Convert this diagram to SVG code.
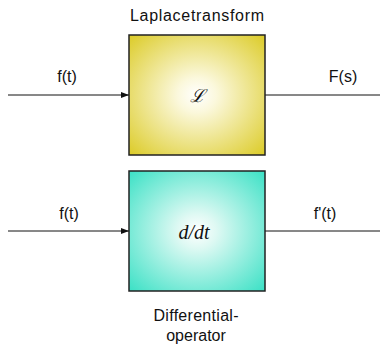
<svg xmlns="http://www.w3.org/2000/svg" width="383" height="345" viewBox="0 0 383 345">
<style>
.lbl{font-family:"Liberation Sans",Arial,sans-serif;font-size:16px;fill:#111;text-anchor:middle}
.math{font-family:"DejaVu Serif","Liberation Serif",serif;font-style:italic;font-size:20px;fill:#111;text-anchor:middle}
.box{stroke:#222;stroke-width:1.5}
.wire{stroke:#111;stroke-width:1;fill:none}
</style>
<defs>
<radialGradient id="gy" cx="50%" cy="50%" r="72%">
<stop offset="0" stop-color="#ffffff"/>
<stop offset="0.2" stop-color="#fbf8dc"/>
<stop offset="1" stop-color="#dbca22"/>
</radialGradient>
<radialGradient id="gt" cx="50%" cy="50%" r="72%">
<stop offset="0" stop-color="#ffffff"/>
<stop offset="0.2" stop-color="#def9f3"/>
<stop offset="1" stop-color="#36e0c4"/>
</radialGradient>
<marker id="ah" markerWidth="8" markerHeight="6" refX="8" refY="3" orient="auto" markerUnits="userSpaceOnUse">
<path d="M0,0 L8,3 L0,6 Z" fill="#111"/>
</marker>
</defs>
<g id="connectors">
<line class="wire" x1="8" y1="95" x2="129" y2="95" marker-end="url(#ah)"/>
<line class="wire" x1="265" y1="95" x2="380" y2="95"/>
<line class="wire" x1="8" y1="231" x2="129" y2="231" marker-end="url(#ah)"/>
<line class="wire" x1="265" y1="231" x2="380" y2="231"/>
<text class="lbl" x="67" y="82">f(t)</text>
<text class="lbl" x="343" y="82">F(s)</text>
<text class="lbl" x="69" y="219">f(t)</text>
<text class="lbl" x="325" y="219">f'(t)</text>
</g>
<g id="laplace">
<rect class="box" x="129" y="35" width="136" height="120" fill="url(#gy)"/>
<text class="math" x="197" y="102" style="font-size:18px">ℒ</text>
<text class="lbl" x="197" y="21" textLength="134" lengthAdjust="spacing">Laplacetransform</text>
</g>
<g id="differential">
<rect class="box" x="129" y="171" width="136" height="120" fill="url(#gt)"/>
<text class="math" x="194" y="239" style="font-family:'Liberation Serif',serif">d/dt</text>
<text class="lbl" x="196" y="321" textLength="85" lengthAdjust="spacing">Differential-</text>
<text class="lbl" x="196" y="341">operator</text>
</g>
</svg>
